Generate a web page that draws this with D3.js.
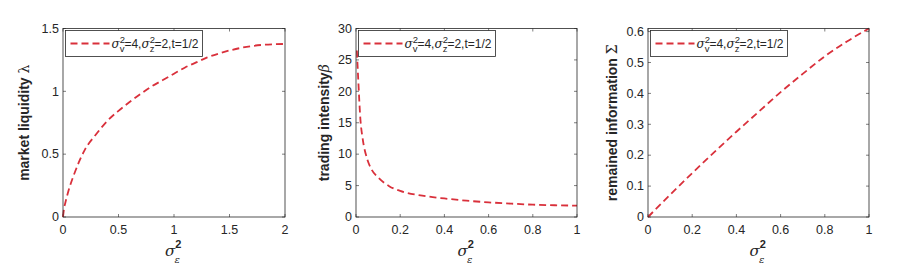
<!DOCTYPE html>
<html>
<head>
<meta charset="utf-8">
<script src="https://cdn.jsdelivr.net/npm/d3@7"></script>
<style>
  body { margin: 0; background: #fff; }
  svg { display: block; }
  text { font-family: "Liberation Sans", Arial, sans-serif; fill: #262626; }
</style>
</head>
<body>
<svg width="906" height="269"></svg>
<script>
const width = 906;
const height = 269;

// Data
const lambdaX = [0, 0.01, 0.02, 0.05, 0.1, 0.15, 0.2, 0.3, 0.4, 0.5, 0.6, 0.7, 0.8, 0.9, 1.0, 1.1, 1.2, 1.3, 1.4, 1.5, 1.6, 1.7, 1.8, 1.9, 2.0];
const lambdaY = [0, 0.07, 0.11, 0.21, 0.34, 0.45, 0.54, 0.66, 0.765, 0.845, 0.915, 0.98, 1.04, 1.09, 1.14, 1.19, 1.23, 1.27, 1.30, 1.325, 1.345, 1.36, 1.37, 1.375, 1.377];

const betaX = [0.004, 0.01, 0.02, 0.03, 0.05, 0.07, 0.1, 0.15, 0.2, 0.3, 0.4, 0.5, 0.6, 0.7, 0.8, 0.9, 1.0];
const betaY = [26.5, 22, 15.5, 12.5, 9.3, 7.6, 6.3, 4.9, 4.15, 3.4, 2.95, 2.6, 2.33, 2.13, 1.96, 1.87, 1.8];

const sigmaX = [0, 0.1, 0.2, 0.3, 0.4, 0.5, 0.6, 0.7, 0.8, 0.9, 1.0];
const sigmaY = [0, 0.072, 0.142, 0.21, 0.276, 0.34, 0.404, 0.463, 0.52, 0.568, 0.61];

const xTicks1 = [0, 0.5, 1, 1.5, 2];
const yTicks1 = [0, 0.5, 1, 1.5];
const xTicks2 = [0, 0.2, 0.4, 0.6, 0.8, 1];
const yTicks2 = [0, 5, 10, 15, 20, 25, 30];
const xTicks3 = [0, 0.2, 0.4, 0.6, 0.8, 1];
const yTicks3 = [0, 0.1, 0.2, 0.3, 0.4, 0.5, 0.6];

const panels = [
  { left: 63, right: 285, xs: lambdaX, ys: lambdaY, xDomain: [0, 2], yDomain: [0, 1.5],
    xTicks: xTicks1, yTicks: yTicks1, label: "market liquidity ", sym: "λ", symItalic: false, labelX: 29 },
  { left: 356, right: 577, xs: betaX, ys: betaY, xDomain: [0, 1], yDomain: [0, 30],
    xTicks: xTicks2, yTicks: yTicks2, label: "trading intensity", sym: "β", symItalic: true, labelX: 329 },
  { left: 648, right: 869, xs: sigmaX, ys: sigmaY, xDomain: [0, 1], yDomain: [0, 0.61],
    xTicks: xTicks3, yTicks: yTicks3, label: "remained information ", sym: "Σ", symItalic: false, labelX: 617 }
];

const plotTop = 28.5;
const plotBottom = 217;
const red = "#d9303b";
const axisColor = "#262626";

const svg = d3.select("svg").attr("width", width).attr("height", height);

panels.forEach((p) => {
  const x = d3.scaleLinear().domain(p.xDomain).range([p.left, p.right]);
  const y = d3.scaleLinear().domain(p.yDomain).range([plotBottom, plotTop]);
  const g = svg.append("g");

  // inward ticks on all four sides (box on)
  const tick = 3;
  g.selectAll(".xt").data(p.xTicks).join("path")
    .attr("d", (d) => `M${x(d)},${plotBottom}v${-tick}M${x(d)},${plotTop}v${tick}`)
    .attr("stroke", axisColor).attr("stroke-width", 0.6);
  g.selectAll(".yt").data(p.yTicks).join("path")
    .attr("d", (d) => `M${p.left},${y(d)}h${tick}M${p.right},${y(d)}h${-tick}`)
    .attr("stroke", axisColor).attr("stroke-width", 0.6);

  // tick labels
  g.selectAll(".xl").data(p.xTicks).join("text")
    .attr("x", (d) => x(d)).attr("y", plotBottom + 16.5)
    .attr("text-anchor", "middle").attr("font-size", 12.5)
    .text((d) => String(d));
  g.selectAll(".yl").data(p.yTicks).join("text")
    .attr("x", p.left - 4).attr("y", (d) => y(d) + 4.3)
    .attr("text-anchor", "end").attr("font-size", 12.5)
    .text((d) => String(d));

  // the curve
  const line = d3.line()
    .x((d, i) => x(p.xs[i]))
    .y((d, i) => y(p.ys[i]))
    .curve(d3.curveMonotoneX);
  g.append("path")
    .attr("d", line(p.ys))
    .attr("fill", "none")
    .attr("stroke", red)
    .attr("stroke-width", 1.8)
    .attr("stroke-dasharray", "7,4");

  // axes box
  g.append("rect")
    .attr("x", p.left).attr("y", plotTop)
    .attr("width", p.right - p.left).attr("height", plotBottom - plotTop)
    .attr("fill", "none").attr("stroke", axisColor).attr("stroke-width", 0.8);

  // legend
  const lx = p.left + 2.5;
  const ly = 30.5;
  const lg = g.append("g");
  lg.append("rect")
    .attr("x", lx).attr("y", ly).attr("width", 137).attr("height", 26)
    .attr("fill", "#fff").attr("stroke", axisColor).attr("stroke-width", 0.8);
  lg.append("line")
    .attr("x1", lx + 5).attr("x2", lx + 44).attr("y1", ly + 13).attr("y2", ly + 13)
    .attr("stroke", red).attr("stroke-width", 1.8).attr("stroke-dasharray", "7,4");
  const lt = lg.append("text").attr("x", lx + 46).attr("y", ly + 17).attr("font-size", 12);
  lt.append("tspan").attr("font-family", "DejaVu Serif, serif").attr("font-style", "italic").text("σ");
  lt.append("tspan").attr("dy", -5).attr("font-size", 9.5).text("2");
  lt.append("tspan").attr("dx", -5.3).attr("dy", 9).attr("font-size", 9.5).text("v");
  lt.append("tspan").attr("dy", -4).text("=4,");
  lt.append("tspan").attr("font-family", "DejaVu Serif, serif").attr("font-style", "italic").text("σ");
  lt.append("tspan").attr("dy", -5).attr("font-size", 9.5).text("2");
  lt.append("tspan").attr("dx", -5.3).attr("dy", 9).attr("font-size", 9.5).text("z");
  lt.append("tspan").attr("dy", -4).text("=2,t=1/2");

  // y label
  const yl = g.append("text")
    .attr("transform", `translate(${p.labelX},${(plotTop + plotBottom) / 2}) rotate(-90)`)
    .attr("text-anchor", "middle")
    .attr("font-size", 14).attr("font-weight", "bold");
  yl.append("tspan").text(p.label);
  yl.append("tspan")
    .attr("font-weight", "normal")
    .attr("font-family", "DejaVu Serif, serif")
    .attr("font-style", p.symItalic ? "italic" : "normal")
    .text(p.sym);

  // x label
  const xl = g.append("text")
    .attr("x", (p.left + p.right) / 2 - 9).attr("y", 256)
    .attr("font-size", 15);
  xl.append("tspan").attr("font-family", "DejaVu Serif, serif").attr("font-style", "italic").text("σ");
  xl.append("tspan").attr("dy", -8).attr("font-size", 11).attr("font-weight", "bold").text("2");
  xl.append("tspan").attr("dx", -7).attr("dy", 15).attr("font-size", 10)
    .attr("font-family", "DejaVu Serif, serif").attr("font-style", "italic").text("ε");
});
</script>
</body>
</html>
